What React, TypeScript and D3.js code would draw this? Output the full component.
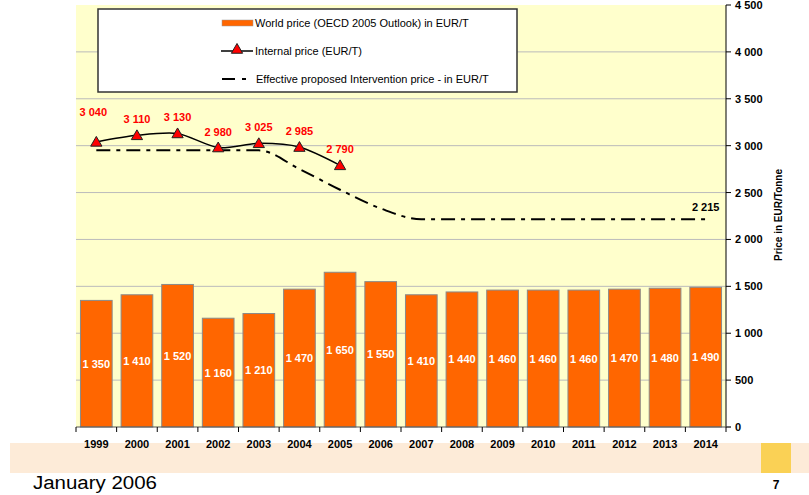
import React from "react";
import * as d3 from "d3";

const years = ["1999","2000","2001","2002","2003","2004","2005","2006","2007","2008","2009","2010","2011","2012","2013","2014"];
const worldPrice = [1350,1410,1520,1160,1210,1470,1650,1550,1410,1440,1460,1460,1460,1470,1480,1490];
const internalYears = ["1999","2000","2001","2002","2003","2004","2005"];
const internalPrice = [3040,3110,3130,2980,3025,2985,2790];
const interventionPrice = [2950,2950,2950,2950,2950,2750,2530,2330,2215,2215,2215,2215,2215,2215,2215,2215];
const yTicks = [0,500,1000,1500,2000,2500,3000,3500,4000,4500];

const W = 809, H = 495;
const FONT = "'Liberation Sans', Arial, sans-serif";
const fmt = (v: number) => d3.format(",")(v).replace(/,/g, " ");

export default function App() {
  const x = d3.scaleBand<string>().domain(years).range([76, 726]).paddingInner(0.22).paddingOuter(0.11);
  const y = d3.scaleLinear().domain([0, 4500]).range([427, 5]);
  const cx = (yr: string) => (x(yr) as number) + x.bandwidth() / 2;

  const internalLine = d3.line<number>()
    .x((_, i) => cx(internalYears[i]))
    .y((d) => y(d))
    .curve(d3.curveCardinal.tension(0.2));
  const interLine = d3.line<number>()
    .x((_, i) => cx(years[i]))
    .y((d) => y(d))
    .curve(d3.curveMonotoneX);
  const tri = d3.symbol().type(d3.symbolTriangle).size(55)() as string;

  const step = x.step();
  const boundaries = d3.range(years.length + 1).map((i) => 76 + i * step);

  return (
    <div style={{ position: "absolute", left: 0, top: 0 }}>
      <svg width={W} height={H} style={{ display: "block", fontFamily: FONT }}>
        <rect x={0} y={0} width={W} height={H} fill="#ffffff" />
        {/* footer band */}
        <rect x={10} y={443} width={799} height={30} fill="#FDEBD8" />
        <rect x={761} y={443} width={30} height={30} fill="#FAD155" />
        <text x={33} y={489} fontSize={18} fill="#000" textLength={124} lengthAdjust="spacingAndGlyphs">January 2006</text>
        <text x={776} y={489} fontSize={12} fontWeight="bold" textAnchor="middle" fill="#000">7</text>

        {/* plot background */}
        <rect x={76} y={5} width={650} height={422} fill="#FFFFCC" />
        {yTicks.filter((t) => t > 0 && t < 4500).map((t) => (
          <line key={t} x1={76} x2={726} y1={y(t)} y2={y(t)} stroke="#BBBBBB" strokeWidth={1} />
        ))}

        {/* bars */}
        {years.map((yr, i) => (
          <rect key={yr} x={x(yr)} y={y(worldPrice[i])} width={x.bandwidth()} height={427 - y(worldPrice[i])}
            fill="#FF6600" stroke="#8A8A8A" strokeWidth={1} />
        ))}
        {years.map((yr, i) => (
          <text key={"l" + yr} x={cx(yr)} y={(y(worldPrice[i]) + 427) / 2 + 4} textAnchor="middle"
            fontSize={11} fontWeight="bold" fill="#ffffff">{fmt(worldPrice[i])}</text>
        ))}

        {/* intervention price */}
        <path d={interLine(interventionPrice) as string} fill="none" stroke="#000" strokeWidth={2}
          strokeDasharray="14,6,4,6" />
        <text x={cx("2014")} y={y(2215) - 8} textAnchor="middle" fontSize={11} fontWeight="bold" fill="#000">{fmt(2215)}</text>

        {/* internal price */}
        <path d={internalLine(internalPrice) as string} fill="none" stroke="#000" strokeWidth={1.5} />
        {internalYears.map((yr, i) => (
          <path key={"m" + yr} d={tri} transform={`translate(${cx(yr)},${y(internalPrice[i]) + 1})`}
            fill="#FF0000" stroke="#222" strokeWidth={1} />
        ))}
        {internalYears.map((yr, i) => (
          <text key={"t" + yr} x={cx(yr) - (i === 0 ? 3 : 0)} y={y(internalPrice[i]) - (i === 0 ? 26 : 12)}
            textAnchor="middle" fontSize={11} fontWeight="bold" fill="#FF0000">{fmt(internalPrice[i])}</text>
        ))}

        {/* axes */}
        <line x1={726} x2={726} y1={5} y2={427} stroke="#000" strokeWidth={1} />
        {yTicks.map((t) => (
          <g key={"yt" + t}>
            <line x1={726} x2={731} y1={y(t)} y2={y(t)} stroke="#000" />
            <text x={735} y={y(t) + 4} fontSize={11} fontWeight="bold" fill="#000">{fmt(t)}</text>
          </g>
        ))}
        <text transform={`translate(782,215) rotate(-90)`} textAnchor="middle" fontSize={10} fontWeight="bold" fill="#000">Price in EUR/Tonne</text>

        <line x1={76} x2={731} y1={427} y2={427} stroke="#555" strokeWidth={1} />
        {boundaries.map((b, i) => (
          <line key={"xt" + i} x1={b} x2={b} y1={427} y2={432} stroke="#000" />
        ))}
        {years.map((yr) => (
          <text key={"xl" + yr} x={cx(yr)} y={448} textAnchor="middle" fontSize={11} fontWeight="bold" fill="#000">{yr}</text>
        ))}

        {/* legend */}
        <rect x={98} y={9} width={419} height={83} fill="#ffffff" stroke="#333" strokeWidth={1.5} />
        <rect x={222} y={20} width={31} height={6} fill="#FF6600" stroke="#999" strokeWidth={0.5} />
        <text x={255} y={27} fontSize={11} fill="#000">World price (OECD 2005 Outlook) in EUR/T</text>
        <line x1={221} x2={253} y1={51} y2={51} stroke="#000" strokeWidth={1.5} />
        <path d={tri} transform="translate(237,50)" fill="#FF0000" stroke="#222" strokeWidth={1} />
        <text x={255} y={55} fontSize={11} fill="#000">Internal price (EUR/T)</text>
        <line x1={222} x2={235} y1={79} y2={79} stroke="#000" strokeWidth={2} />
        <line x1={242} x2={246} y1={79} y2={79} stroke="#000" strokeWidth={2} />
        <text x={256} y={83} fontSize={11} fill="#000">Effective proposed Intervention price - in EUR/T</text>
      </svg>
    </div>
  );
}
